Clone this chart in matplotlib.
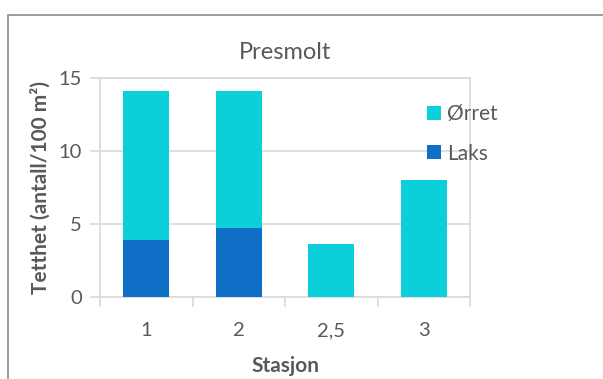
import matplotlib.pyplot as plt
from matplotlib.patches import Rectangle
import numpy as np

plt.rcParams['font.family'] = ['Lato', 'DejaVu Sans']

# data
stasjon = ['1', '2', '2,5', '3']
laks = [3.9, 4.7, 0.0, 0.0]
orret = [10.2, 9.4, 3.65, 8.0]

c_laks = '#0F6FC6'
c_orret = '#0BCFD9'
grid_c = '#D9D9D9'
txt_c = '#595959'

W, H = 603, 379
fig = plt.figure(figsize=(W / 100, H / 100), dpi=100)
ax = fig.add_axes([100 / W, 1 - 297 / H, 370 / W, 219 / H])

# outer chart frame (cut off at right and bottom)
fig.patches.append(Rectangle((8 / W, -0.1), 1.2, 1 - 15 / H + 0.1,
                             transform=fig.transFigure, fill=False,
                             edgecolor='#8C8C8C', lw=1.2))

x = np.arange(len(stasjon))
ax.bar(x, laks, width=0.5, color=c_laks, label='Laks', zorder=3)
ax.bar(x, orret, width=0.5, bottom=laks, color=c_orret, label='Ørret', zorder=3)

ax.set_xlim(-0.5, len(stasjon) - 0.5)
ax.set_ylim(0, 15)
ax.set_yticks([0, 5, 10, 15])
ax.yaxis.grid(True, color=grid_c, lw=1.2, zorder=0)

ax.set_xticks(x)
ax.set_xticklabels(stasjon)
ax.set_xticks(np.arange(-0.5, len(stasjon)), minor=True)
ax.tick_params(axis='x', which='major', length=0, pad=18, labelsize=14.5, labelcolor=txt_c)
ax.tick_params(axis='x', which='minor', length=7, width=1.2, color=grid_c)
ax.tick_params(axis='y', length=7, width=1.2, color=grid_c, labelsize=14.5,
               labelcolor=txt_c, pad=6)

for s in ['left', 'bottom', 'right', 'top']:
    ax.spines[s].set_color(grid_c)
    ax.spines[s].set_linewidth(1.2)

ax.set_title('Presmolt', fontsize=17, color=txt_c, pad=14)
ax.set_xlabel('Stasjon', fontsize=15, fontweight='bold', color=txt_c, labelpad=12)
ax.set_ylabel('Tetthet (antall/100 m²)', fontsize=15, fontweight='bold',
              color=txt_c, labelpad=6)

h, l = ax.get_legend_handles_labels()
ax.legend(h[::-1], l[::-1], loc='upper left', bbox_to_anchor=(0.834, 0.967),
          frameon=False, fontsize=15, labelcolor=txt_c, handlelength=0.65,
          handleheight=0.65, handletextpad=0.3, labelspacing=0.95)

fig.savefig('out.png', dpi=100)
